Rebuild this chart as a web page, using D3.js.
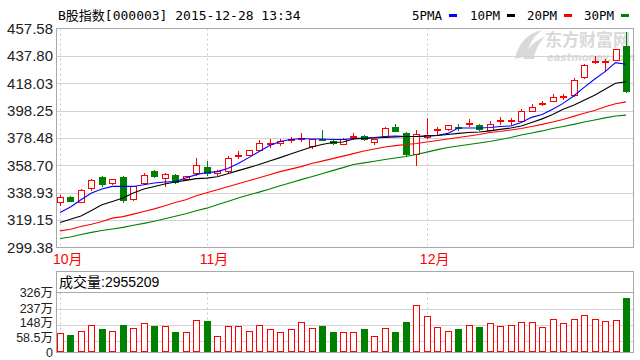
<!DOCTYPE html>
<html><head><meta charset="utf-8">
<script src="https://cdn.jsdelivr.net/npm/d3@7"></script>
<style>body{margin:0;background:#fff}svg{display:block}</style>
</head><body>
<svg id="c" width="640" height="360"></svg>
<script>
const dates = ["10-13","10-14","10-15","10-16","10-19","10-20","10-21","10-22","10-23","10-26","10-27","10-28","10-29","10-30",
"11-02","11-03","11-04","11-05","11-06","11-09","11-10","11-11","11-12","11-13","11-16","11-17","11-18","11-19","11-20","11-23","11-24","11-25","11-26","11-27","11-30",
"12-01","12-02","12-03","12-04","12-07","12-08","12-09","12-10","12-11","12-14","12-15","12-16","12-17","12-18","12-21","12-22","12-23","12-24","12-25","12-28"];
const openP = [331.9,335.5,332.6,342.3,350.0,346.0,350.0,334.4,346.0,354.7,349.3,351.8,348.9,353.2,357.6,353.2,354.4,365.8,366.5,370.1,374.0,374.7,376.9,377.8,372.5,377.9,376.2,374.5,379.1,379.8,375.7,379.8,386.6,382.3,367.0,379.1,383.9,384.9,386.6,388.8,387.8,384.3,390.5,390.8,390.7,397.9,402.8,405.2,408.1,409.3,422.2,433.1,433.3,434.9,444.7];
const highP = [337.5,336.4,341.6,348.9,351.3,349.1,350.8,344.0,353.2,355.6,353.1,352.4,351.3,363.8,361.6,355.6,365.3,368.9,370.1,376.9,377.4,377.4,379.3,382.3,378.1,384.1,377.0,378.5,382.3,380.3,377.8,386.5,388.3,383.0,383.9,392.6,386.3,387.9,388.3,391.9,388.3,390.7,393.9,393.1,399.2,402.8,405.2,410.1,410.6,421.5,431.8,437.4,435.5,443.1,454.8];
const lowP = [330.2,332.8,332.0,340.6,343.5,345.5,332.6,333.5,345.5,350.3,343.5,345.8,348.4,352.0,352.0,352.0,353.2,364.1,366.2,369.8,372.1,373.6,375.4,376.2,371.4,376.7,374.5,374.1,377.4,377.0,373.8,379.2,383.2,365.3,358.7,378.6,381.5,384.6,384.6,387.1,384.3,383.9,388.3,388.3,390.1,397.7,402.1,405.0,406.4,408.8,421.7,432.7,426.9,434.7,411.9];
const closeP = [336.2,333.3,340.6,347.9,345.5,348.6,333.4,343.5,352.0,351.3,352.7,346.4,350.8,359.3,353.2,354.4,364.1,366.5,369.6,375.0,375.0,376.2,377.4,378.3,377.4,376.9,374.7,377.9,379.8,377.4,377.4,385.9,383.4,367.0,381.5,380.5,385.2,387.6,385.6,389.5,384.9,388.3,391.4,391.4,397.7,401.1,403.5,408.1,408.8,420.4,431.1,433.8,433.8,442.7,412.5];
const volumeWan = [105,92,114,147,124,114,147,129,157,142,142,109,109,175,170,87,142,142,116,147,124,110,124,164,129,142,107,109,109,124,87,129,107,162,260,197,135,114,127,147,135,157,142,147,162,162,135,182,157,182,203,182,170,175,295.5209];
const ma5 = [324.6,328.6,333.9,338.7,341.6,343.5,343.5,343.5,344.7,346.0,346.7,347.1,349.6,352.0,353.5,354.2,356.4,360.0,364.3,368.7,373.0,375.9,377.4,378.1,377.8,377.8,377.4,377.4,378.1,378.5,378.8,379.6,379.9,379.6,379.6,379.9,380.3,381.8,385.7,385.7,385.7,386.1,386.8,387.2,389.7,393.4,395.5,399.2,403.5,408.8,415.1,420.9,426.4,432.9,431.8];
const ma10 = [317.4,319.8,322.2,326.1,330.2,332.6,335.1,338.7,341.6,343.5,345.2,346.7,347.9,349.1,349.5,350.5,352.7,354.9,357.1,359.3,361.8,364.3,366.9,369.4,372.0,373.8,375.2,375.6,377.8,378.1,378.5,378.8,379.2,379.6,379.6,379.9,380.3,381.0,381.8,382.5,382.8,383.6,384.7,385.7,387.2,389.7,392.3,395.5,399.2,402.1,405.7,409.3,413.7,418.0,419.1];
const ma20 = [311.4,312.6,314.5,316.2,318.1,320.6,321.7,323.5,325.4,327.3,329.5,331.9,333.9,336.8,338.9,341.1,343.3,345.5,347.6,349.8,352.0,354.2,356.0,357.8,360.0,361.8,363.6,365.4,367.2,369.1,370.5,372.0,373.0,373.8,374.5,375.6,376.7,377.8,378.8,379.9,381.0,382.5,383.2,384.3,385.4,386.8,388.3,390.1,391.9,394.1,396.3,398.4,401.0,403.2,404.6];
const ma30 = [305.9,307.0,308.8,310.3,311.7,312.8,313.9,315.4,316.8,318.3,320.1,321.9,323.7,325.9,327.8,330.2,332.6,335.1,337.3,339.4,341.6,344.0,346.2,348.4,350.5,352.7,354.9,357.1,359.3,360.5,361.7,362.9,364.0,365.1,366.5,368.3,370.1,371.6,372.7,373.8,374.9,375.9,377.4,378.8,380.7,382.1,383.6,385.4,386.8,388.3,390.1,391.5,393.0,394.4,395.0];
const priceTickLabels = ["299.38","319.15","338.93","358.70","378.48","398.25","418.03","437.80","457.58"];
const volTickVals = [0,58.5,148,237,326];
const volTickLabels = ["0","58.5万","148万","237万","326万"];
const monthLabels = ["10月","11月","12月"];
const monthStarts = ["10-13","11-02","12-01"];
const maNames = ["5PMA","10PM","20PM","30PM"];
const titleText = "B股指数[000003] 2015-12-28 13:34";
const volHeader = "成交量:2955209";

const UP = "#ff0000", DOWN = "#008000";
const maColors = ["#0000ff","#000000","#ff0000","#008000"];
const svg = d3.select("#c");
const L = 56.5, R = 633.5, T = 28.5, B = 247.5;
const VT = 271.5, VS = 292.5, VB = 352.5;

const x = d3.scalePoint().domain(dates).range([60, 626]);
const y = d3.scaleLinear().domain([299.38, 457.58]).range([B, T]);
const yv = d3.scaleLinear().domain([0, 326]).range([352, 292.5]);
const priceVals = priceTickLabels.map(Number);

// watermark
const wm = svg.append("g").attr("fill", "#d9d9d9");
wm.append("path").attr("d", "M515,59 C518,43 528,33 542,30 C533,37 528,46 526,56 Z M523,59 C527,48 535,40 545,37 C539,43 535,50 534,59 Z");
wm.append("text").attr("x", 545).attr("y", 46).attr("font-size", 17).attr("font-weight", "bold")
  .attr("font-family", "'Noto Sans CJK SC'").text("东方财富网");
wm.append("text").attr("x", 547).attr("y", 61).attr("font-size", 10).attr("font-weight", "bold").attr("font-style", "italic")
  .attr("font-family", "'DejaVu Sans'").text("eastmoney.com");

// title
svg.append("text").attr("x", 58).attr("y", 20).attr("font-size", 13)
  .attr("font-family", "'DejaVu Sans Mono','Noto Sans CJK SC'").attr("fill", "#000").text(titleText);

// legend
const legX = [412, 470, 527, 584];
maNames.forEach((n, i) => {
  svg.append("text").attr("x", legX[i]).attr("y", 20).attr("font-size", 12.5)
    .attr("font-family", "'DejaVu Sans Mono'").attr("fill", "#000").text(n);
  svg.append("rect").attr("x", legX[i] + 37).attr("y", 14).attr("width", 8).attr("height", 3).attr("fill", maColors[i]);
});

// price grid
svg.append("g").selectAll("line").data(priceVals.slice(1, -1)).join("line")
  .attr("x1", L).attr("x2", R).attr("y1", d => Math.round(y(d)) + 0.5).attr("y2", d => Math.round(y(d)) + 0.5)
  .attr("stroke", "#d3d3d3");
svg.append("rect").attr("x", L).attr("y", T).attr("width", R - L).attr("height", B - T)
  .attr("fill", "none").attr("stroke", "#a8a8a8");

// month dashed lines
monthStarts.forEach(m => {
  const xx = Math.round(x(m)) + 0.5;
  svg.append("line").attr("x1", xx).attr("x2", xx).attr("y1", T).attr("y2", B)
    .attr("stroke", "#c8c8c8").attr("stroke-dasharray", "2,3");
  svg.append("line").attr("x1", xx).attr("x2", xx).attr("y1", VS).attr("y2", VB)
    .attr("stroke", "#c8c8c8").attr("stroke-dasharray", "2,3");
});

// price axis labels
const ay = svg.append("g").attr("transform", "translate(53,0)")
  .call(d3.axisLeft(y).tickValues(priceVals).tickFormat((d, i) => priceTickLabels[i]).tickSize(0).tickPadding(0));
ay.select(".domain").remove();
ay.selectAll("text").attr("font-size", 15).attr("font-family", "'Liberation Sans',Arial").attr("fill", "#222");

// month labels
monthStarts.forEach((m, i) => {
  svg.append("text").attr("x", x(m) - 7).attr("y", 264).attr("font-size", 14)
    .attr("font-family", "'Liberation Sans','Noto Sans CJK SC'").attr("fill", "#ff0000").text(monthLabels[i]);
});

// candles
const cg = svg.append("g");
dates.forEach((d, i) => {
  const cx = Math.round(x(d));
  const up = closeP[i] >= openP[i];
  const col = up ? UP : DOWN;
  cg.append("line").attr("x1", cx + 0.5).attr("x2", cx + 0.5)
    .attr("y1", Math.round(y(highP[i]))).attr("y2", Math.round(y(lowP[i])) + 1).attr("stroke", col);
  const yt = Math.round(y(Math.max(openP[i], closeP[i])));
  const yb = Math.round(y(Math.min(openP[i], closeP[i])));
  if (up) {
    cg.append("rect").attr("x", cx - 2.5).attr("y", yt + 0.5).attr("width", 6).attr("height", Math.max(1, yb - yt))
      .attr("fill", "#fff").attr("stroke", col);
  } else {
    cg.append("rect").attr("x", cx - 3).attr("y", yt).attr("width", 7).attr("height", Math.max(2, yb - yt + 1))
      .attr("fill", col);
  }
});

// moving averages
[ma5, ma10, ma20, ma30].forEach((arr, k) => {
  svg.append("path").datum(arr)
    .attr("d", d3.line().x((v, i) => x(dates[i])).y(v => y(v)))
    .attr("fill", "none").attr("stroke", maColors[k]).attr("stroke-width", 1.1);
});

// volume panel
svg.append("g").selectAll("line").data(volTickVals.slice(1, -1)).join("line")
  .attr("x1", L).attr("x2", R).attr("y1", d => Math.round(yv(d)) + 0.5).attr("y2", d => Math.round(yv(d)) + 0.5)
  .attr("stroke", "#d3d3d3");
svg.append("rect").attr("x", L).attr("y", VT).attr("width", R - L).attr("height", VB - VT)
  .attr("fill", "none").attr("stroke", "#a8a8a8");
svg.append("line").attr("x1", L).attr("x2", R).attr("y1", VS).attr("y2", VS).attr("stroke", "#a8a8a8");
svg.append("text").attr("x", 59).attr("y", 287).attr("font-size", 14)
  .attr("font-family", "'Liberation Sans','Noto Sans CJK SC'").attr("fill", "#000").text(volHeader);

const vg = svg.append("g");
dates.forEach((d, i) => {
  const cx = Math.round(x(d));
  const up = closeP[i] >= openP[i];
  const top = Math.round(yv(volumeWan[i]));
  if (up) {
    vg.append("rect").attr("x", cx - 2.5).attr("y", top + 0.5).attr("width", 6).attr("height", 352 - top - 1)
      .attr("fill", "#fff").attr("stroke", UP);
  } else {
    vg.append("rect").attr("x", cx - 3).attr("y", top).attr("width", 7).attr("height", 352 - top)
      .attr("fill", DOWN);
  }
});

// volume axis labels, stacked evenly as in the original
const labelNudge = [0.5, -3.5, -2, -0.5, 0];
const av = svg.append("g").attr("transform", "translate(53,0)")
  .call(d3.axisLeft(yv).tickValues(volTickVals).tickFormat((d, i) => volTickLabels[i]).tickSize(0).tickPadding(0));
av.select(".domain").remove();
av.selectAll("text").attr("font-size", 12.5).attr("font-family", "'Liberation Sans','Noto Sans CJK SC'").attr("fill", "#222")
  .attr("transform", (d, i) => `translate(0,${labelNudge[i]})`);
</script>
</body></html>
